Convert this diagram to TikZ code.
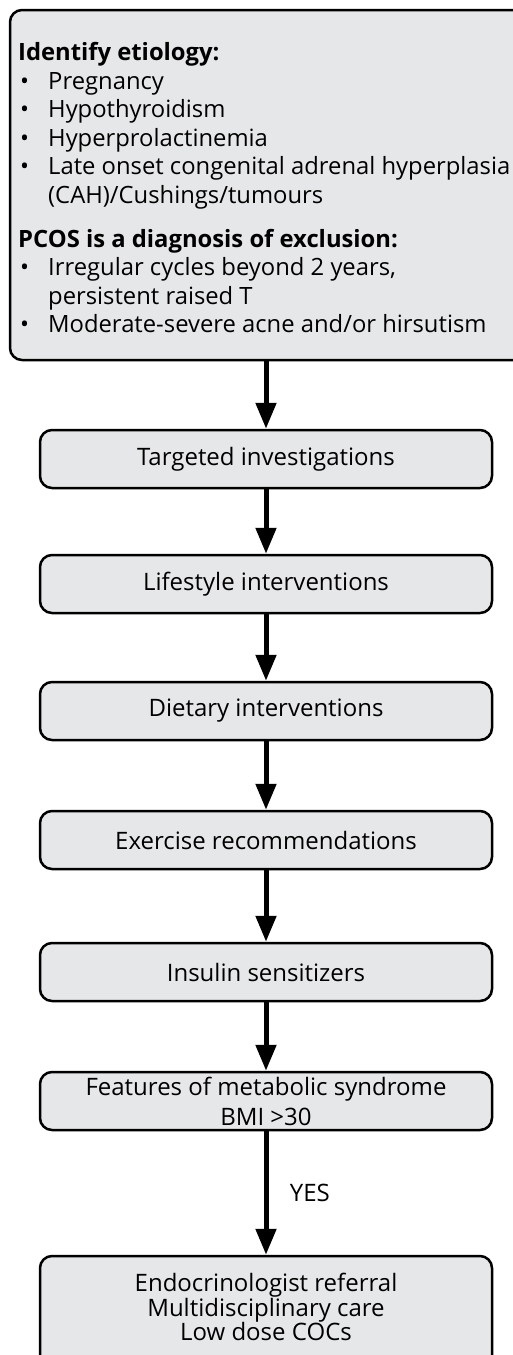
\documentclass[tikz,border=0pt]{standalone}
\usepackage{fontspec}
\setmainfont{Open Sans}
\usetikzlibrary{arrows.meta}
\definecolor{boxgray}{HTML}{E6E7E8}
\newcommand\itembullet{\makebox[30pt][l]{\hspace{2pt}•}}
\newcommand\contindent{\hspace*{30pt}}

\begin{document}
\begin{tikzpicture}[x=1pt,y=-1pt,
  roundbox/.style={draw=black, line width=2.5pt, fill=boxgray, rounded corners=12pt, inner sep=0pt},
  flowbox/.style={roundbox, minimum width=452pt, minimum height=58pt, align=center,
    font=\fontsize{24}{29}\selectfont},
  flowarrow/.style={line width=5pt, -{Triangle[length=26pt,width=20pt]}},
]
\clip (0,0) rectangle (513,1355);
\fill[white] (0,0) rectangle (513,1355);

% etiology / exclusion box
\node[roundbox, minimum width=525pt, minimum height=350pt] (etio) at (272.5,185) {};
\node[anchor=north west, inner sep=0pt, align=left, font=\fontsize{23.8}{28.6}\selectfont] (etiotext) at (18,42)
  {\textbf{Identify etiology:}\\
   \itembullet Pregnancy\\
   \itembullet Hypothyroidism\\
   \itembullet Hyperprolactinemia\\
   \itembullet Late onset congenital adrenal hyperplasia\\
   \contindent(CAH)/Cushings/tumours\\[15pt]
   \textbf{PCOS is a diagnosis of exclusion:}\\
   \itembullet Irregular cycles beyond 2 years,\\
   \contindent persistent raised T\\
   \itembullet Moderate-severe acne and/or hirsutism};

% flow steps
\node[flowbox] (invest)    at (266,459)  {Targeted investigations};
\node[flowbox] (lifestyle) at (266,584)  {Lifestyle interventions};
\node[flowbox] (diet)      at (266,711)  {Dietary interventions};
\node[flowbox] (exercise)  at (266,840)  {Exercise recommendations};
\node[flowbox] (insulin)   at (266,972)  {Insulin sensitizers};
\node[flowbox, font=\fontsize{24}{30}\selectfont] (metab) at (266,1101)
  {Features of metabolic syndrome\\BMI >30};
\node[flowbox, minimum height=130pt] (referral) at (266,1321) {};
\node[align=center, inner sep=0pt, font=\fontsize{24}{24.5}\selectfont] (reftext) at (266,1307)
  {Endocrinologist referral\\Multidisciplinary care\\Low dose COCs};

% connectors
\draw[flowarrow] (etio.south -| invest.north) -- (invest.north);
\draw[flowarrow] (invest) -- (lifestyle);
\draw[flowarrow] (lifestyle) -- (diet);
\draw[flowarrow] (diet) -- (exercise);
\draw[flowarrow] (exercise) -- (insulin);
\draw[flowarrow] (insulin) -- (metab);
\draw[flowarrow] (metab) -- node[right=18pt, font=\fontsize{24}{24}\selectfont] (yes) {YES} (referral);
\end{tikzpicture}
\end{document}
